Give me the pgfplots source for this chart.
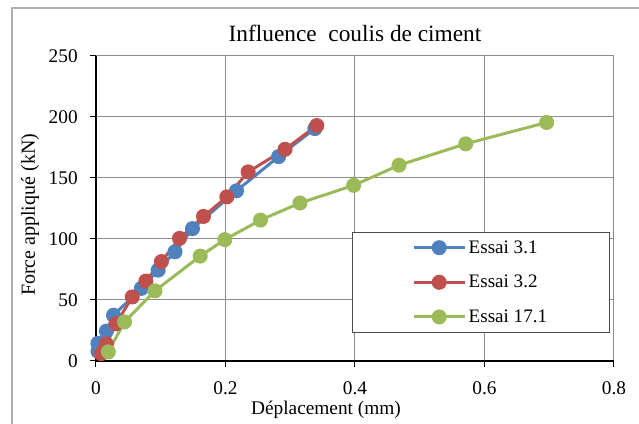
\documentclass[border=0pt]{standalone}
\usepackage{pgfplots}
\pgfplotsset{compat=1.18}
\usepackage{fontspec}
\setmainfont{Liberation Serif}
\definecolor{cblue}{HTML}{4F81BD}
\definecolor{cred}{HTML}{C0504D}
\definecolor{cgreen}{HTML}{9BBB59}
\definecolor{cgrid}{HTML}{8C8C8C}
\begin{document}
\begin{tikzpicture}
\useasboundingbox (-72pt,-47.25pt) rectangle (407.25pt,270.75pt);
\begin{scope}
\clip (-72pt,-47.25pt) rectangle (407.25pt,270.75pt);
\draw[cgrid!70,line width=0.9pt] (-63pt,-80pt) rectangle (440pt,264.75pt);
\end{scope}
\begin{axis}[
  at={(0,0)}, anchor=south west,
  scale only axis, width=388.5pt, height=228.75pt,
  xmin=0, xmax=0.8, ymin=0, ymax=250,
  xtick={0,0.2,0.4,0.6,0.8}, ytick={0,50,100,150,200,250},
  xticklabels={0,0.2,0.4,0.6,0.8},
  grid=major,
  major grid style={cgrid, line width=0.75pt},
  axis x line*=bottom, axis y line*=left,
  axis line style={black, line width=1pt, -},
  tick style={black, line width=0.75pt},
  tick align=outside, major tick length=4.5pt,
  font=\fontsize{14.5pt}{17pt}\selectfont,
  tick label style={font=\fontsize{14.5pt}{17pt}\selectfont},
  /pgf/number format/assume math mode=true,
  yticklabel style={anchor=east, inner sep=0pt, xshift=-9pt},
  xticklabel style={anchor=base, inner sep=0pt, yshift=-20.5pt},
  title={Influence\ \ coulis de ciment},
  title style={font=\fontsize{17.5pt}{20pt}\selectfont, at={(axis description cs:0.5,1)}, anchor=base, yshift=4.5pt},
  xlabel={Déplacement (mm)},
  xlabel style={font=\fontsize{14.5pt}{18pt}\selectfont, inner sep=0pt, at={(axis description cs:0.444,0)}, anchor=base, yshift=-40pt},
  ylabel={Force appliqué (kN)},
  ylabel style={font=\fontsize{15pt}{18pt}\selectfont, at={(axis description cs:-0.1178,0.479)}, anchor=base},
  legend style={at={(axis description cs:0.4942,0.4230)}, anchor=north west,
    draw=black!70, fill=white, line width=0.6pt, inner xsep=45pt, inner ysep=4pt,
    row sep=11pt, font=\fontsize{14.3pt}{17pt}\selectfont},
  legend cell align=left,
  legend image code/.code={
    \draw[#1, mark=none] (0pt,0pt) -- (38pt,0pt);
    \draw[#1, only marks] plot coordinates {(19pt,0pt)};
  },
  every axis plot/.append style={line width=2.25pt, mark=*, mark size=4.5pt, mark options={solid}},
]
\addplot[cblue, mark options={fill=cblue, draw=cblue}] coordinates {
(0.003,8) (0.003,14.5) (0.016,24.5) (0.027,37.5) (0.070,59.5) (0.096,74.5) (0.122,89.5) (0.149,108.5) (0.217,139.5) (0.282,167.5) (0.338,190.5)
};
\addlegendentry{Essai 3.1}
\addplot[cred, mark options={fill=cred, draw=cred}] coordinates {
(0.008,6) (0.016,14) (0.031,30.5) (0.056,52.5) (0.077,65.5) (0.101,81.5) (0.129,100.5) (0.166,118.5) (0.202,134.5) (0.235,155) (0.292,173.5) (0.341,193)
};
\addlegendentry{Essai 3.2}
\addplot[cgreen, mark options={fill=cgreen, draw=cgreen}] coordinates {
(0.019,7.5) (0.044,32) (0.091,57.5) (0.161,86) (0.199,99.5) (0.254,115.5) (0.315,129.5) (0.398,144) (0.468,160.5) (0.571,178) (0.696,195.5)
};
\addlegendentry{Essai 17.1}
\end{axis}
\end{tikzpicture}
\end{document}
